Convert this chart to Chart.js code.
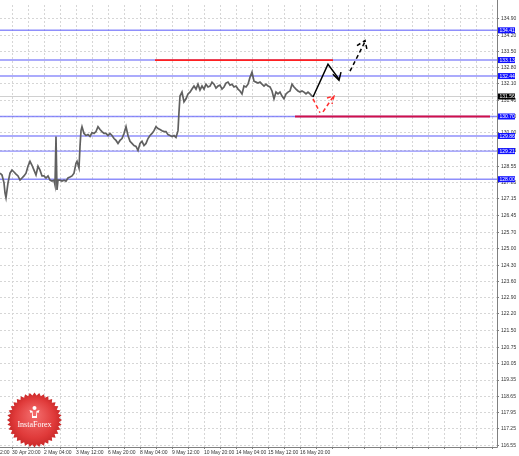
<!DOCTYPE html>
<html><head><meta charset="utf-8">
<script src="https://cdn.jsdelivr.net/npm/chart.js@4/dist/chart.umd.min.js"></script>
<style>html,body{margin:0;padding:0;background:#fff}canvas{display:block}</style>
</head><body>
<canvas id="c" width="519" height="456"></canvas>
<script>
// ---- data ----
const priceHours = [0,2,4,5,6,8,10,12,14,16,18,20,22,24,26,28,30,32,34,36,38,40,42,44,46,48,50,52,54,55,56,57,58,60,62,64,66,68,70,72,74,76,77,79,80,81,82,84,86,88,90,92,94,96,98,100,102,104,106,108,110,112,114,116,118,120,122,124,126,128,130,132,134,136,138,140,142,144,146,148,150,152,154,156,158,160,162,164,166,168,170,172,174,176,178,179,180,182,184,186,188,190,192,194,196,198,200,202,204,206,208,210,212,214,216,218,220,222,224,226,228,230,232,234,236,238,240,242,244,246,248,250,252,254,256,258,260,262,264,266,268,270,272,274,276,278,280,282,284,286,288,290,292,294,296,298,300,302,304,306,308,310,312,313];
const priceValues = [128.26,128.18,127.84,127.41,127.20,127.84,128.26,128.39,128.31,128.22,128.14,127.96,128.05,128.14,128.26,128.56,128.77,128.60,128.39,128.18,128.56,128.39,128.14,128.14,128.05,128.14,127.96,127.92,127.96,127.75,129.84,127.54,127.96,127.96,127.92,127.96,127.92,128.05,128.09,128.14,128.26,128.69,128.77,128.48,129.41,130.09,130.26,129.97,129.88,129.92,129.84,130.01,129.97,130.05,130.26,130.14,130.05,129.97,129.97,129.88,129.97,129.88,129.75,129.67,129.54,129.67,129.75,129.97,130.26,129.88,129.63,129.54,129.45,129.41,129.24,129.54,129.63,129.45,129.54,129.75,129.88,129.97,130.09,130.26,130.18,130.14,130.09,130.05,130.05,129.92,129.88,129.84,129.88,129.80,130.09,130.90,131.58,131.75,131.33,131.46,131.67,131.75,131.88,132.01,131.88,132.09,131.84,132.01,131.88,132.09,131.97,132.01,132.18,132.09,131.92,132.01,132.05,131.88,131.97,132.14,132.18,132.05,132.09,131.97,132.01,131.88,131.80,131.67,132.01,131.97,132.09,132.39,132.61,132.22,132.18,132.14,132.18,132.09,132.01,132.09,132.01,131.97,131.80,131.46,131.75,131.67,131.75,131.58,131.46,131.67,131.75,131.80,132.09,131.97,131.88,131.80,131.75,131.80,131.75,131.67,131.75,131.67,131.58,131.56];
const levelValues = [134.41,133.13,132.44,130.70,129.86,129.21,128.00];
const currentPrice = 131.56;
const resistanceValue = 133.13;
const resistanceHours = [155,333];
const supportValue = 130.70;
const supportHours = [295,490];
const yTickValues = [134.90,134.20,133.50,132.80,132.10,131.40,130.70,130.00,129.25,128.55,127.85,127.15,126.45,125.70,125.00,124.30,123.60,122.90,122.20,121.50,120.75,120.05,119.35,118.65,117.95,117.25,116.55];
const xTickHours = [-20,12,44,76,108,140,172,204,236,268,300];
const xTickLabels = ["29 Apr 12:00","30 Apr 20:00","2 May 04:00","3 May 12:00","6 May 20:00","8 May 04:00","9 May 12:00","10 May 20:00","14 May 04:00","15 May 12:00","16 May 20:00"];
// forecast arrows
const blackPathHours = [313,328,339];
const blackPathValues = [131.54,132.95,132.31];
const blackHeadHours = [333,339,341];
const blackHeadValues = [132.52,132.26,132.61];
const dashPathHours = [350,365];
const dashPathValues = [132.65,133.92];
const dashHeadHours = [357,365,367];
const dashHeadValues = [133.75,133.97,133.58];
const redLeg1Hours = [313,320];
const redLeg1Values = [131.46,130.86];
const redLeg2Hours = [323,333];
const redLeg2Values = [130.90,131.54];
const redHeadHours = [327,334,332];
const redHeadValues = [131.50,131.58,131.24];

// ---- helpers ----
const X_MIN = 0, X_MAX = 497, Y_MIN = 116.47, Y_MAX = 135.50;
const pts = (xs, ys) => xs.map((x, i) => ({x, y: ys[i]}));
const hline = (v, x0, x1) => [{x: x0, y: v}, {x: x1, y: v}];
const lineDs = (data, color, width, dash) => ({
  data, borderColor: color, borderWidth: width, borderDash: dash || [],
  pointRadius: 0, fill: false, tension: 0, showLine: true, clip: false
});

// Chart.js paints the first dataset on top, so the list runs from top layer to bottom layer.
const datasets = [];
datasets.push(lineDs(pts(blackPathHours, blackPathValues), '#000', 1.5));
datasets.push(lineDs(pts(blackHeadHours, blackHeadValues), '#000', 1.5));
datasets.push(lineDs(pts(dashPathHours, dashPathValues), '#000', 1.5, [4,3]));
datasets.push(lineDs(pts(dashHeadHours, dashHeadValues), '#000', 1.5, [4,3]));
datasets.push(lineDs(pts(redLeg1Hours, redLeg1Values), '#ff3030', 1.5, [4,3]));
datasets.push(lineDs(pts(redLeg2Hours, redLeg2Values), '#ff3030', 1.5, [4,3]));
datasets.push(lineDs(pts(redHeadHours, redHeadValues), '#ff3030', 1.5, [4,3]));
datasets.push(lineDs(pts(priceHours, priceValues), '#606060', 1.7));
datasets.push(lineDs(hline(resistanceValue, resistanceHours[0], resistanceHours[1]), '#ff2020', 1.8));
datasets.push(lineDs(hline(supportValue, supportHours[0], supportHours[1]), '#d0104a', 2.2));
levelValues.forEach(v => datasets.push(lineDs(hline(v, X_MIN, X_MAX), 'rgba(105,105,250,0.75)', 1.4)));
datasets.push(lineDs(hline(currentPrice, X_MIN, X_MAX), '#d0d0d0', 1));

const FONT = {family: 'Liberation Sans', size: 5};

const decor = {
  id: 'decor',
  afterDraw(chart) {
    const {ctx, chartArea: a, scales: {x, y}} = chart;
    ctx.save();
    // axis borders
    ctx.strokeStyle = '#808080'; ctx.lineWidth = 1; ctx.setLineDash([]);
    ctx.beginPath();
    ctx.moveTo(a.right + 0.5, 0); ctx.lineTo(a.right + 0.5, a.bottom + 0.5);
    ctx.lineTo(0, a.bottom + 0.5);
    ctx.stroke();
    // partial first x label
    ctx.fillStyle = '#333'; ctx.font = '5px "Liberation Sans"';
    ctx.textAlign = 'left'; ctx.textBaseline = 'top';
    const px0 = x.getPixelForValue(xTickHours[0]);
    ctx.fillText(xTickLabels[0], px0 + 1, a.bottom + 3);
    // level label boxes
    const box = (v, bg) => {
      const py = y.getPixelForValue(v);
      ctx.fillStyle = bg;
      ctx.fillRect(a.right + 1, py - 3, 17, 6);
      ctx.fillStyle = '#fff';
      ctx.textBaseline = 'middle';
      ctx.fillText(v.toFixed(2), a.right + 2.5, py + 0.3);
    };
    levelValues.forEach(v => box(v, '#1010ff'));
    box(currentPrice, '#000');
    // logo
    const cx = 34.5, cy = 420, ro = 27.5, ri = 24.5, n = 36;
    ctx.beginPath();
    for (let i = 0; i < n * 2; i++) {
      const r = i % 2 ? ri : ro;
      const ang = i * Math.PI / n - Math.PI / 2;
      const px = cx + r * Math.cos(ang), py = cy + r * Math.sin(ang);
      i ? ctx.lineTo(px, py) : ctx.moveTo(px, py);
    }
    ctx.closePath();
    const g = ctx.createRadialGradient(cx, cy - 6, 2, cx, cy, ro);
    g.addColorStop(0, '#f26a6a'); g.addColorStop(0.7, '#e03a3a'); g.addColorStop(1, '#c82828');
    ctx.fillStyle = g; ctx.fill();
    // icon
    ctx.fillStyle = '#fff';
    ctx.beginPath(); ctx.arc(cx, cy - 12, 2, 0, Math.PI * 2); ctx.fill();
    ctx.beginPath();
    ctx.moveTo(cx - 5, cy - 10); ctx.lineTo(cx - 2, cy - 9); ctx.lineTo(cx - 1.5, cy - 4);
    ctx.lineTo(cx + 1.5, cy - 4); ctx.lineTo(cx + 2, cy - 9); ctx.lineTo(cx + 5, cy - 10);
    ctx.lineTo(cx + 4, cy - 7); ctx.lineTo(cx + 2.5, cy - 7.5); ctx.lineTo(cx + 2.5, cy - 2);
    ctx.lineTo(cx - 2.5, cy - 2); ctx.lineTo(cx - 2.5, cy - 7.5); ctx.lineTo(cx - 4, cy - 7);
    ctx.closePath(); ctx.fill();
    ctx.font = '8px "Liberation Serif"';
    ctx.textAlign = 'center'; ctx.textBaseline = 'middle';
    ctx.fillText('InstaForex', cx, cy + 5);
    ctx.restore();
  }
};

new Chart(document.getElementById('c'), {
  type: 'line',
  data: {datasets},
  plugins: [decor],
  options: {
    responsive: false, animation: false, devicePixelRatio: 1,
    layout: {padding: 0},
    plugins: {legend: {display: false}, tooltip: {enabled: false}},
    elements: {line: {borderCapStyle: 'butt', borderJoinStyle: 'miter'}},
    scales: {
      x: {
        type: 'linear', min: X_MIN, max: X_MAX,
        afterBuildTicks(s) {
          const t = [];
          for (let h = xTickHours[1] - 16 * Math.floor((xTickHours[1] - X_MIN) / 16); h <= X_MAX; h += 16) t.push({value: h});
          s.ticks = t;
        },
        afterFit(s) { s.height = 9; },
        ticks: {
          autoSkip: false, maxRotation: 0, align: 'start', padding: 1,
          font: FONT, color: '#333',
          callback(v) { const i = xTickHours.indexOf(v); return i >= 0 ? xTickLabels[i] : ''; }
        },
        grid: {color: '#d6d6d6', lineWidth: 1, tickLength: 2, tickColor: '#808080'},
        border: {display: false, dash: [2, 2]}
      },
      y: {
        type: 'linear', position: 'right', min: Y_MIN, max: Y_MAX,
        afterBuildTicks(s) { s.ticks = yTickValues.map(v => ({value: v})); },
        afterFit(s) { s.width = 22; },
        ticks: {
          autoSkip: false, padding: 2, font: FONT, color: '#333',
          callback(v) { return Number(v).toFixed(2); }
        },
        grid: {color: '#d6d6d6', lineWidth: 1, tickLength: 2, tickColor: '#808080'},
        border: {display: false, dash: [2, 2]}
      }
    }
  }
});
</script>
</body></html>
